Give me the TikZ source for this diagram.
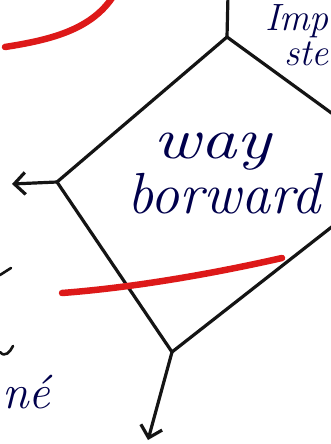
\documentclass[tikz,border=0pt]{standalone}
\usetikzlibrary{arrows.meta}
\begin{document}
\begin{tikzpicture}[x=1pt,y=-1pt,
  ink/.style={line width=3.2pt,color=black!92,line cap=round,line join=round},
  hand/.style={font=\fontsize{58}{58}\selectfont\itshape,text=blue!30!black,inner sep=0pt},
  small/.style={font=\fontsize{38}{38}\selectfont\itshape,text=blue!30!black,inner sep=0pt},
  marker/.style={line width=6.5pt,color=red!85!black!90,line cap=round},
  tip/.style={ink,-{Straight Barb[length=11pt,width=22pt,line width=3.2pt]}}]
\useasboundingbox (0,0) rectangle (331,444);
\fill[white] (0,0) rectangle (331,444);
\clip (0,0) rectangle (331,444);
% diamond corners
\coordinate (T) at (227,37);
\coordinate (L) at (57,182);
\coordinate (B) at (172,352);
\coordinate (R) at (407,168);
\coordinate (up) at (228,-5);
\coordinate (leftend) at (12,184);
\coordinate (downend) at (148,440);
\draw[ink] (T) -- (L) -- (B) -- (R) -- cycle;
\draw[ink] (T) -- (up);
\draw[tip] (L) -- (leftend);
\draw[tip] (B) -- (downend);
% texts
\node[hand,anchor=base] (way) at (212,158) {\scalebox{1.25}[1]{way}};
\node[hand,anchor=base] (fw) at (224,213) {borward};
\node[small,anchor=base east] (imp) at (329,31) {Imp};
\node[small,anchor=base east] (ste) at (329,66) {ste};
\node[hand,anchor=base west,font=\fontsize{48}{48}\selectfont\itshape] (ne) at (2,408) {né};
% stray strokes at left edge
\draw[ink,line width=2.6pt] (0,275) -- (11,268);
\draw[ink,line width=2.6pt] (0,352) .. controls (5,358) and (10,352) .. (13,346);
% red marker strokes
\draw[marker] (5,47) .. controls (50,40) and (90,30) .. (112,-2);
\draw[marker] (62,293) .. controls (140,287) and (220,272) .. (282,258);
\end{tikzpicture}
\end{document}
